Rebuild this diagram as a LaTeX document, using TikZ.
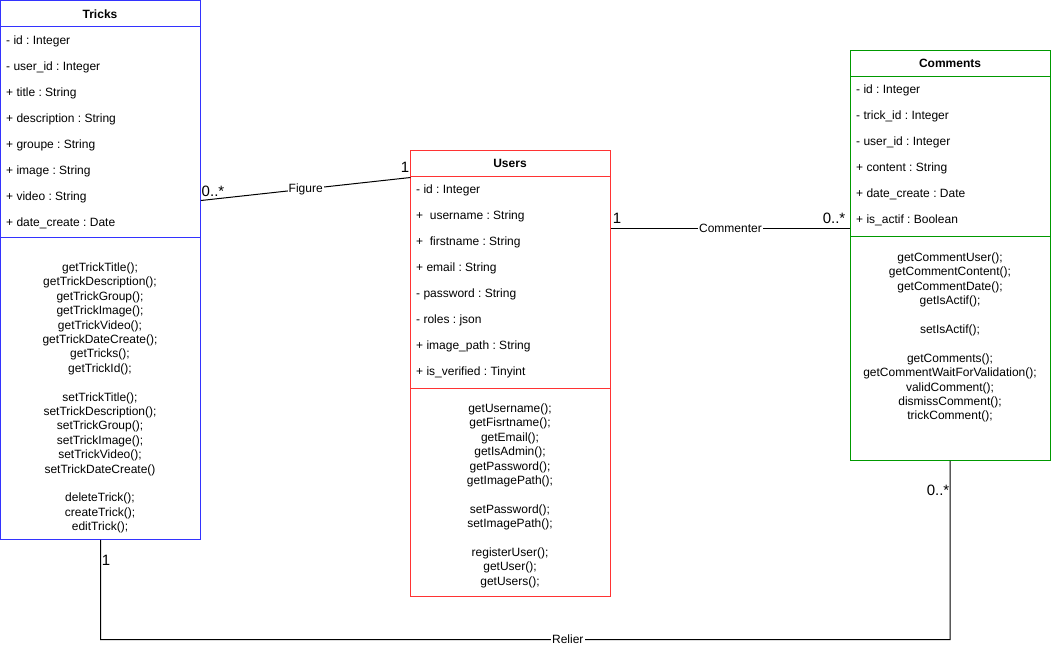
\documentclass[tikz,border=0pt]{standalone}
\usepackage{fontspec}
\setmainfont{Liberation Sans}
\frenchspacing

\definecolor{trickblue}{HTML}{3333FF}
\definecolor{userred}{HTML}{FF3333}
\definecolor{commentgreen}{HTML}{009900}

\tikzset{
	classbox/.style={minimum width=200pt, anchor=north west, inner sep=0pt},
	classline/.style={draw=#1, line width=1pt},
	classname/.style={inner sep=0pt, font=\bfseries\fontsize{12}{14.4}\selectfont},
	attr/.style={anchor=west, inner sep=0pt, text height=9pt, text depth=3pt, font=\fontsize{12}{14.4}\selectfont},
	methods/.style={anchor=north, align=center, inner sep=0pt, font=\fontsize{12}{14.4}\selectfont},
	assoc/.style={line width=1pt},
	assoclabel/.style={fill=white, inner sep=1pt, font=\fontsize{12}{14.4}\selectfont},
	mult/.style={inner sep=0pt, font=\fontsize{15}{18}\selectfont},
}

\begin{document}
\begin{tikzpicture}[x=1pt, y=-1pt]
	\newcommand\rowh{26};
	\useasboundingbox (0,0) rectangle (1051,649);

	% Tricks
	\node[classbox, minimum height=539pt] (tricks) at (0.5,0.5) {};
	\draw[classline=trickblue] (tricks.north west) rectangle (tricks.south east);
	\draw[classline=trickblue] (tricks.north west) ++(0,\rowh) -- ++(200,0);
	\draw[classline=trickblue] (tricks.north west) ++(0,237) -- ++(200,0);
	\node[classname] (tricks-name) at (100,14) {Tricks};
	\foreach \a [count=\i] in {- id : Integer, - user\_id : Integer, + title : String, + description : String,
		+ groupe : String, + image : String, + video : String, + date\_create : Date} {
		\node[attr] (tricks-a\i) at (6,15.5+\rowh*\i) {\a};
	}
	\node[methods] (tricks-m) at (100,262.5) {getTrickTitle();\\getTrickDescription();\\getTrickGroup();\\getTrickImage();\\
		getTrickVideo();\\getTrickDateCreate();\\getTricks();\\getTrickId();\\[14.4pt]
		setTrickTitle();\\setTrickDescription();\\setTrickGroup();\\setTrickImage();\\
		setTrickVideo();\\setTrickDateCreate()\\[14.4pt]
		deleteTrick();\\createTrick();\\editTrick();};

	% Users
	\node[classbox, minimum height=446pt] (users) at (410.5,150.5) {};
	\draw[classline=userred] (users.north west) rectangle (users.south east);
	\draw[classline=userred] (users.north west) ++(0,\rowh) -- ++(200,0);
	\draw[classline=userred] (users.north west) ++(0,238) -- ++(200,0);
	\node[classname] (users-name) at (510,163) {Users};
	\foreach \a [count=\i] in {- id : Integer, +~ username : String, +~ firstname : String, + email : String,
		- password : String, - roles : json, + image\_path : String, + is\_verified : Tinyint} {
		\node[attr] (users-a\i) at (416,164.5+\rowh*\i) {\a};
	}
	\node[methods] (users-m) at (510,403.5) {getUsername();\\getFisrtname();\\getEmail();\\getIsAdmin();\\
		getPassword();\\getImagePath();\\[14.4pt]
		setPassword();\\setImagePath();\\[14.4pt]
		registerUser();\\getUser();\\getUsers();};

	% Comments
	\node[classbox, minimum height=410pt] (comments) at (850,50.5) {};
	\draw[classline=commentgreen] (comments.north west) rectangle (comments.south east);
	\draw[classline=commentgreen] (comments.north west) ++(0,\rowh) -- ++(200,0);
	\draw[classline=commentgreen] (comments.north west) ++(0,186) -- ++(200,0);
	\node[classname] (comments-name) at (950,63) {Comments};
	\foreach \a [count=\i] in {- id : Integer, - trick\_id : Integer, - user\_id : Integer, + content : String,
		+ date\_create : Date, + is\_actif : Boolean} {
		\node[attr] (comments-a\i) at (856,64.5+\rowh*\i) {\a};
	}
	\node[methods] (comments-m) at (950,252.5) {getCommentUser();\\getCommentContent();\\getCommentDate();\\getIsActif();\\[14.4pt]
		setIsActif();\\[14.4pt]
		getComments();\\getCommentWaitForValidation();\\validComment();\\dismissComment();\\trickComment();};

	% associations
	\draw[assoc] ([yshift=-200pt]tricks.north east) -- node[assoclabel] (figure) {Figure} ([yshift=-27pt]users.north west);
	\draw[assoc] ([yshift=-78pt]users.north east) -- node[assoclabel] (commenter) {Commenter} ([yshift=-178pt]comments.north west);
	\coordinate (relier-corner) at (100.5,639.5);
	\draw[assoc] (tricks.south) -- (relier-corner) -| node[assoclabel, pos=0.275] (relier) {Relier} (comments.south);

	\node[mult] (figure-src) at (213,191) {0..*};
	\node[mult] (figure-dst) at (405,167) {1};
	\node[mult] (commenter-src) at (617,218) {1};
	\node[mult] (commenter-dst) at (834,218) {0..*};
	\node[mult] (relier-src) at (106,560) {1};
	\node[mult] (relier-dst) at (938,490) {0..*};
\end{tikzpicture}
\end{document}
